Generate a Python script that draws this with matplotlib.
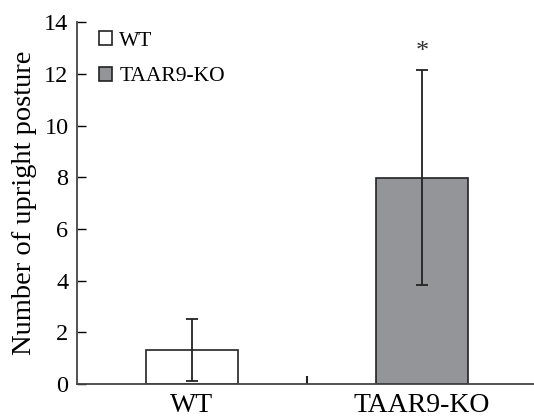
import matplotlib.pyplot as plt
import numpy as np

plt.rcParams['font.family'] = ['Liberation Serif', 'DejaVu Serif']

# data
groups = ['WT', 'TAAR9-KO']
means = [1.32, 7.98]
errors = [1.2, 4.15]
colors = ['white', '#939598']
star_y = 12.85

x = np.arange(len(groups))

fig = plt.figure(figsize=(5.34, 4.17), dpi=100)
ax = fig.add_axes([0.144, 0.079, 0.856, 0.868])

for i in range(len(groups)):
    ax.bar(x[i], means[i], width=0.4, color=colors[i], edgecolor='#222222',
           linewidth=1.2, label=groups[i], zorder=2)
    ax.errorbar(x[i], means[i], yerr=errors[i], fmt='none', ecolor='#222222',
                elinewidth=1.3, capsize=4.5, capthick=1.3, zorder=3)

# significance mark
ax.text(x[1], star_y, '*', ha='center', va='center', fontsize=19, color='#333333')

ax.set_xlim(-0.5, 1.487)
ax.set_ylim(0, 14)
ax.set_yticks([0, 2, 4, 6, 8, 10, 12, 14])
ax.set_xticks(x)
ax.set_xticklabels(groups, fontsize=20)
ax.tick_params(axis='x', length=0, pad=6.5)
ax.set_xticks([0.5], minor=True)
ax.tick_params(axis='x', which='minor', direction='in', length=6, width=1.5, color='#222222')
ax.tick_params(axis='y', direction='in', length=6.5, width=1.0, labelsize=17.5, pad=6)
ax.set_ylabel('Number of upright posture', fontsize=20.5, labelpad=5)

for s in ['top', 'right']:
    ax.spines[s].set_visible(False)
for s in ['left', 'bottom']:
    ax.spines[s].set_color('#444444')
    ax.spines[s].set_linewidth(1.3)

ax.legend(loc='upper left', bbox_to_anchor=(0.02, 1.01), frameon=False, fontsize=15.5,
          handlelength=0.6, handleheight=0.6, handletextpad=0.35, labelspacing=0.75,
          borderaxespad=0.2)

plt.savefig('out.png', dpi=100)
